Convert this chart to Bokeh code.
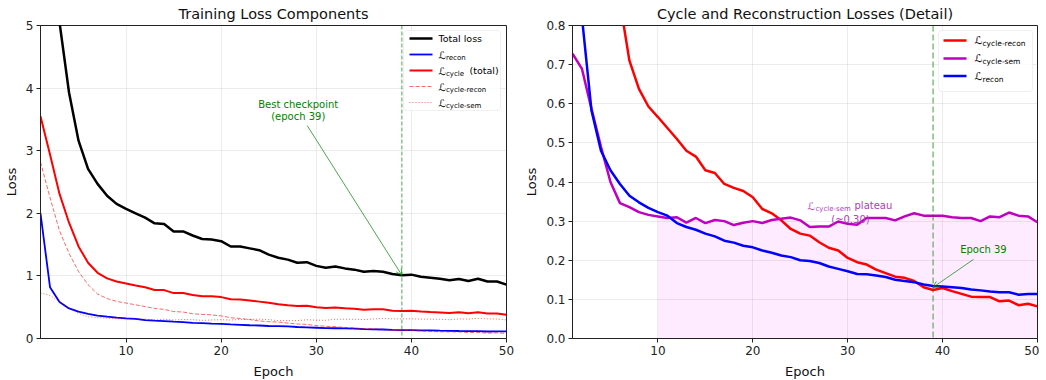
from bokeh.plotting import figure
from bokeh.layouts import row
from bokeh.models import Range1d, FixedTicker, Span, Arrow, OpenHead, Label, BoxAnnotation, NumeralTickFormatter
from bokeh.embed import file_html
from bokeh.resources import INLINE

# ---------------- data ----------------
epochs = list(range(1, 51))
total_loss = [8.5, 6.2, 5.05, 3.93, 3.16, 2.71, 2.47, 2.28, 2.15, 2.07,
              2.0, 1.93, 1.84, 1.83, 1.71, 1.71, 1.645, 1.59, 1.58, 1.555,
              1.47, 1.47, 1.44, 1.41, 1.34, 1.29, 1.26, 1.21, 1.22, 1.16,
              1.13, 1.15, 1.12, 1.10, 1.065, 1.08, 1.065, 1.03, 1.01, 1.02,
              0.985, 0.97, 0.955, 0.93, 0.95, 0.92, 0.955, 0.91, 0.91, 0.86]
recon = [2.0, 0.82, 0.583, 0.48, 0.43, 0.395, 0.365, 0.348, 0.334, 0.323,
         0.314, 0.295, 0.285, 0.278, 0.268, 0.261, 0.25, 0.245, 0.237, 0.233,
         0.225, 0.219, 0.212, 0.208, 0.2, 0.198, 0.193, 0.184, 0.178, 0.172,
         0.165, 0.164, 0.161, 0.157, 0.15, 0.147, 0.144, 0.138, 0.134, 0.133,
         0.131, 0.129, 0.125, 0.123, 0.12, 0.118, 0.118, 0.112, 0.114, 0.114]
cycle_total = [3.55, 2.94, 2.31, 1.85, 1.47, 1.21, 1.05, 0.96, 0.91, 0.88,
               0.846, 0.82, 0.776, 0.773, 0.725, 0.726, 0.695, 0.675, 0.673, 0.661,
               0.626, 0.623, 0.608, 0.589, 0.57, 0.548, 0.532, 0.518, 0.524, 0.499,
               0.486, 0.497, 0.484, 0.475, 0.46, 0.467, 0.467, 0.445, 0.438, 0.443,
               0.431, 0.422, 0.415, 0.406, 0.418, 0.405, 0.419, 0.399, 0.401, 0.379]
cycle_recon = [2.82, 2.25, 1.72, 1.36, 1.07, 0.86, 0.71, 0.638, 0.593, 0.566,
               0.538, 0.51, 0.48, 0.465, 0.43, 0.423, 0.395, 0.385, 0.377, 0.361,
               0.331, 0.32, 0.302, 0.28, 0.268, 0.263, 0.246, 0.232, 0.225, 0.206,
               0.195, 0.189, 0.176, 0.167, 0.158, 0.155, 0.147, 0.131, 0.124, 0.129,
               0.121, 0.114, 0.107, 0.106, 0.106, 0.095, 0.097, 0.085, 0.089, 0.082]
cycle_sem = [0.728, 0.689, 0.587, 0.49, 0.40, 0.346, 0.336, 0.323, 0.316, 0.312,
             0.308, 0.31, 0.296, 0.308, 0.295, 0.303, 0.30, 0.29, 0.296, 0.30,
             0.295, 0.303, 0.306, 0.309, 0.302, 0.285, 0.286, 0.286, 0.299, 0.293,
             0.291, 0.308, 0.308, 0.308, 0.302, 0.312, 0.32, 0.314, 0.314, 0.314,
             0.31, 0.308, 0.308, 0.30, 0.312, 0.31, 0.322, 0.314, 0.312, 0.297]
best_epoch = 39
plateau_start = 10
x_ticks = [10, 20, 30, 40, 50]
left_y_ticks = [0, 1, 2, 3, 4, 5]
right_y_ticks = [0.0, 0.1, 0.2, 0.3, 0.4, 0.5, 0.6, 0.7, 0.8]

FONT = "DejaVu Sans"
FW_L, FW_R, FH = 466, 465, 313
X0, X1 = 1, 50


def make_fig(title, y_end, fw, bl, br, yticks, fmt=None):
    p = figure(frame_width=fw, frame_height=FH,
               x_range=Range1d(X0, X1), y_range=Range1d(0, y_end),
               output_backend="svg", toolbar_location=None,
               min_border_left=bl, min_border_right=br,
               min_border_top=0, min_border_bottom=0,
               background_fill_color="white", border_fill_color="white")
    p.title.text = title
    p.title.align = "center"
    p.title.text_font = FONT
    p.title.text_font_size = "14.5px"
    p.title.text_font_style = "normal"
    p.title.text_color = "#111111"
    p.title.standoff = 7
    p.xaxis.ticker = FixedTicker(ticks=x_ticks)
    p.yaxis.ticker = FixedTicker(ticks=yticks)
    if fmt is not None:
        p.yaxis.formatter = NumeralTickFormatter(format=fmt)
    for ax in (p.xaxis, p.yaxis):
        ax.major_label_text_font = FONT
        ax.major_label_text_font_size = "12px"
        ax.major_label_text_color = "#222222"
        ax.axis_label_text_font = FONT
        ax.axis_label_text_font_size = "13px"
        ax.axis_label_text_font_style = "normal"
        ax.axis_label_text_color = "#111111"
        ax.major_tick_in = 0
        ax.major_tick_out = 4
        ax.minor_tick_out = 0
        ax.minor_tick_in = 0
        ax.major_label_standoff = 3
        ax.axis_line_color = "#222222"
        ax.major_tick_line_color = "#222222"
    p.xaxis.axis_label = "Epoch"
    p.yaxis.axis_label = "Loss"
    p.xaxis.axis_label_standoff = 6
    p.yaxis.axis_label_standoff = 4
    p.grid.grid_line_color = "#b0b0b0"
    p.grid.grid_line_alpha = 0.3
    p.grid.grid_line_width = 0.8
    p.outline_line_color = "#222222"
    p.outline_line_width = 1
    p.outline_line_alpha = 1
    return p


def conv(fw, y_end):
    X = lambda px: X0 + px * (X1 - X0) / fw
    Y = lambda py: y_end * (1 - py / FH)
    return X, Y


def label(p, x, y, text, size, color="black", align="left", baseline="middle"):
    p.add_layout(Label(x=x, y=y, text=text, text_font=FONT,
                       text_font_size=f"{size}px", text_color=color,
                       text_align=align, text_baseline=baseline, level="overlay"))


def legend(p, fw, y_end, box, rows, line_x, items):
    X, Y = conv(fw, y_end)
    p.add_layout(BoxAnnotation(left=X(box[0]), right=X(box[1]),
                               top=Y(box[2]), bottom=Y(box[3]),
                               fill_color="white", fill_alpha=0.85,
                               line_color="#cccccc", line_width=1,
                               border_radius=3))
    for ry, (style, parts) in zip(rows, items):
        p.line([X(line_x[0]), X(line_x[1])], [Y(ry), Y(ry)], level="overlay", **style)
        for (txt, size, px, dy) in parts:
            label(p, X(px), Y(ry + dy), txt, size)


# ---------------- left panel ----------------
pl = make_fig("Training Loss Components", 5, FW_L, 31, 15, left_y_ticks)
pl.line(epochs, total_loss, line_color="black", line_width=2.5)
pl.line(epochs, recon, line_color="blue", line_width=1.8)
pl.line(epochs, cycle_total, line_color="red", line_width=2)
pl.line(epochs, cycle_recon, line_color="red", line_width=1, line_alpha=0.6, line_dash="4 2")
pl.line(epochs, cycle_sem, line_color="red", line_width=1, line_alpha=0.6, line_dash="1 2")
pl.add_layout(Span(location=best_epoch, dimension="height", line_color="green",
                   line_alpha=0.7, line_width=1, line_dash="4 2"))
pl.add_layout(Arrow(end=OpenHead(size=6, line_color="green", line_alpha=0.7, line_width=1),
                    x_start=29.05, y_start=3.40,
                    x_end=best_epoch, y_end=total_loss[best_epoch - 1],
                    line_color="green", line_alpha=0.7, line_width=1))
label(pl, 28.1, 3.74, "Best checkpoint", 10, color="green", align="center")
label(pl, 28.1, 3.55, "(epoch 39)", 10, color="green", align="center")

legend(pl, FW_L, 5, (363, 460, 5, 85), [13, 29, 45, 61, 77], (369, 392), [
    (dict(line_color="black", line_width=2.5), [("Total loss", 9.5, 398, 0)]),
    (dict(line_color="blue", line_width=1.8), [("ℒ", 10.5, 398, 0), ("recon", 7, 405.5, 3)]),
    (dict(line_color="red", line_width=2), [("ℒ", 10.5, 398, 0), ("cycle", 7, 405.5, 3), ("(total)", 9.5, 429, 0)]),
    (dict(line_color="red", line_width=1, line_alpha=0.6, line_dash="4 2"), [("ℒ", 10.5, 398, 0), ("cycle-recon", 7, 405.5, 3)]),
    (dict(line_color="red", line_width=1, line_alpha=0.6, line_dash="1 2"), [("ℒ", 10.5, 398, 0), ("cycle-sem", 7, 405.5, 3)]),
])

# ---------------- right panel ----------------
pr = make_fig("Cycle and Reconstruction Losses (Detail)", 0.8, FW_R, 51, 2, right_y_ticks, fmt="0.0")
i0 = plateau_start - 1
pr.varea(x=epochs[i0:], y1=[0] * len(epochs[i0:]), y2=cycle_sem[i0:],
         fill_color="magenta", fill_alpha=0.08)
pr.line(epochs, cycle_recon, line_color="red", line_width=2.5)
pr.line(epochs, cycle_sem, line_color="#bf00bf", line_width=2.5)
pr.line(epochs, recon, line_color="blue", line_width=2.5)
pr.add_layout(Span(location=best_epoch, dimension="height", line_color="green",
                   line_alpha=0.5, line_width=1.5, line_dash="6 3"))
pr.add_layout(Arrow(end=OpenHead(size=6, line_color="green", line_alpha=0.7, line_width=1),
                    x_start=43.25, y_start=0.202,
                    x_end=best_epoch, y_end=0.131,
                    line_color="green", line_alpha=0.7, line_width=1))
label(pr, 44.3, 0.227, "Epoch 39", 10, color="green", align="center")

XR, YR = conv(FW_R, 0.8)
PURPLE = "#b03cbc"
label(pr, XR(235), YR(180), "ℒ", 10.5, color=PURPLE)
label(pr, XR(243), YR(183.5), "cycle-sem", 7, color=PURPLE)
label(pr, XR(282), YR(180), "plateau", 10, color=PURPLE)
label(pr, XR(278), YR(193.5), "(~0.30)", 10, color=PURPLE, align="center")

legend(pr, FW_R, 0.8, (366, 460, 5, 66), [15, 33, 50.5], (371, 394), [
    (dict(line_color="red", line_width=2.5), [("ℒ", 11, 402, 0), ("cycle-recon", 7.5, 410, 3)]),
    (dict(line_color="#bf00bf", line_width=2.5), [("ℒ", 11, 402, 0), ("cycle-sem", 7.5, 410, 3)]),
    (dict(line_color="blue", line_width=2.5), [("ℒ", 11, 402, 0), ("recon", 7.5, 410, 3)]),
])

layout = row(pl, pr)
open("out.html", "w").write(file_html(layout, INLINE))
